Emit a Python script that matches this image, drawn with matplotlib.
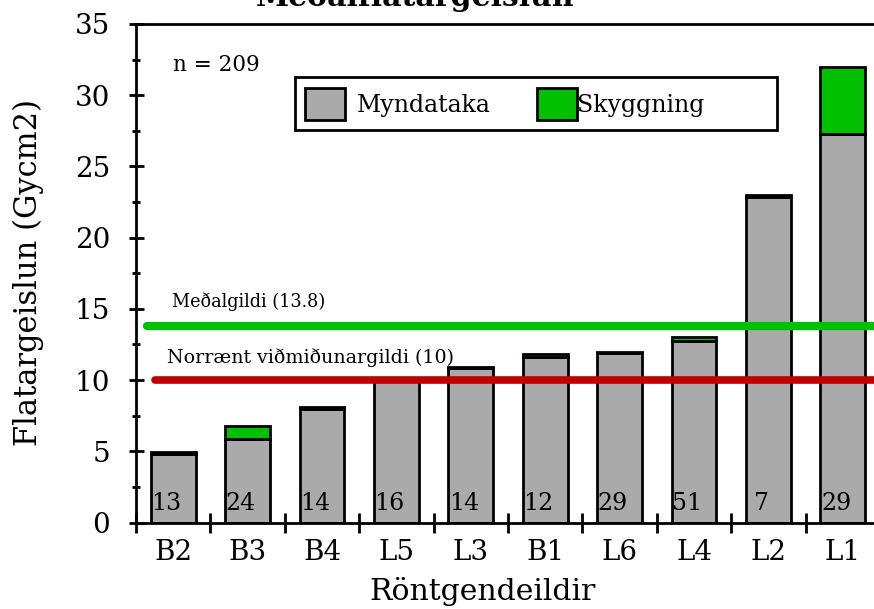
import matplotlib
matplotlib.use('Agg')
import matplotlib.pyplot as plt
import numpy as np
from matplotlib.patches import Rectangle

plt.rcParams['font.family'] = 'DejaVu Serif'

# Dose per department: imaging part and fluoroscopy part (Gycm2)
categories = ['B2', 'B3', 'B4', 'L5', 'L3', 'B1', 'L6', 'L4', 'L2', 'L1']
myndataka = [4.8, 5.85, 8.0, 10.05, 10.85, 11.6, 11.9, 12.75, 22.85, 27.3]
skyggning = [0.15, 0.9, 0.1, 0.0, 0.1, 0.2, 0.05, 0.3, 0.15, 4.7]
counts = [13, 24, 14, 16, 14, 12, 29, 51, 7, 29]
n_total = 209
mean_value = 13.8
nordic_ref = 10

gray = '#AAAAAA'
green = '#00C000'
red = '#C00000'

fig = plt.figure(figsize=(8.74, 6.09), dpi=100)
ax = fig.add_axes([136 / 874, 86.5 / 609, 744 / 874, 498.5 / 609])

x = np.arange(len(categories))
ax.bar(x, myndataka, width=0.6, color=gray, edgecolor='black', linewidth=2, zorder=2)
ax.bar(x, skyggning, width=0.6, bottom=myndataka, color=green, edgecolor='black',
       linewidth=2, zorder=2)

# number of exams in each department
for i, c in enumerate(counts):
    ax.text(x[i] - 0.09, 0.85, str(c), ha='center', va='baseline', fontsize=17, zorder=4)

# reference lines
ax.axhline(mean_value, xmin=0.015, color=green, linewidth=6, solid_capstyle='round', zorder=3)
ax.axhline(nordic_ref, xmin=0.025, color=red, linewidth=5.5, solid_capstyle='round', zorder=3)
ax.text(0.0484, 0.4323, f'Meðalgildi ({mean_value})', transform=ax.transAxes,
        fontsize=12.7, va='baseline')
ax.text(0.0417, 0.3192, f'Norrænt viðmiðunargildi ({nordic_ref})', transform=ax.transAxes,
        fontsize=13.7, va='baseline')
ax.text(0.0497, 0.9057, f'n = {n_total}', transform=ax.transAxes, fontsize=15.5, va='baseline')

# legend box
ax.add_patch(Rectangle((0.2137, 0.7874), 0.6479, 0.1063, transform=ax.transAxes,
                       facecolor='white', edgecolor='black', linewidth=2, zorder=5))
ax.add_patch(Rectangle((0.2272, 0.8074), 0.0538, 0.0642, transform=ax.transAxes,
                       facecolor=gray, edgecolor='black', linewidth=2, zorder=6))
ax.add_patch(Rectangle((0.5390, 0.8074), 0.0538, 0.0642, transform=ax.transAxes,
                       facecolor=green, edgecolor='black', linewidth=2, zorder=6))
ax.text(0.2970, 0.8235, 'Myndataka', transform=ax.transAxes, fontsize=17, va='baseline', zorder=6)
ax.text(0.5927, 0.8235, 'Skyggning', transform=ax.transAxes, fontsize=17, va='baseline', zorder=6)

ax.set_xlim(-0.5, 9.5)
ax.set_ylim(0, 35)

# y axis: major every 5, minor halfway
ax.set_yticks(np.arange(0, 36, 5))
ax.set_yticks(np.arange(2.5, 35, 5), minor=True)
ax.tick_params(axis='y', which='major', direction='inout', length=10.8, width=2,
               pad=13.3, labelsize=20)
ax.tick_params(axis='y', which='minor', direction='inout', length=5.8, width=2)

# x axis: ticks between bars, labels under bars
ax.set_xticks(np.arange(-0.5, 9.6, 1))
ax.set_xticklabels([])
ax.set_xticks(x, minor=True)
ax.set_xticklabels(categories, minor=True)
ax.tick_params(axis='x', which='major', direction='inout', length=13.7, width=2)
ax.tick_params(axis='x', which='minor', length=0, pad=12, labelsize=20)

for side in ['left', 'bottom', 'top', 'right']:
    ax.spines[side].set_linewidth(2)

fig.text(28 / 874, 0.5525, 'Flatargeislun (Gycm2)', rotation=90, ha='center', va='center',
         fontsize=22)
fig.text(483 / 874, 9 / 609, 'Röntgendeildir', ha='center', va='baseline', fontsize=21.5)
fig.text(415 / 874, 1 - 6 / 609, 'Meðalflatargeislun', ha='center', va='baseline',
         fontsize=21.5, fontweight='bold')

fig.savefig('out.png', dpi=100)
